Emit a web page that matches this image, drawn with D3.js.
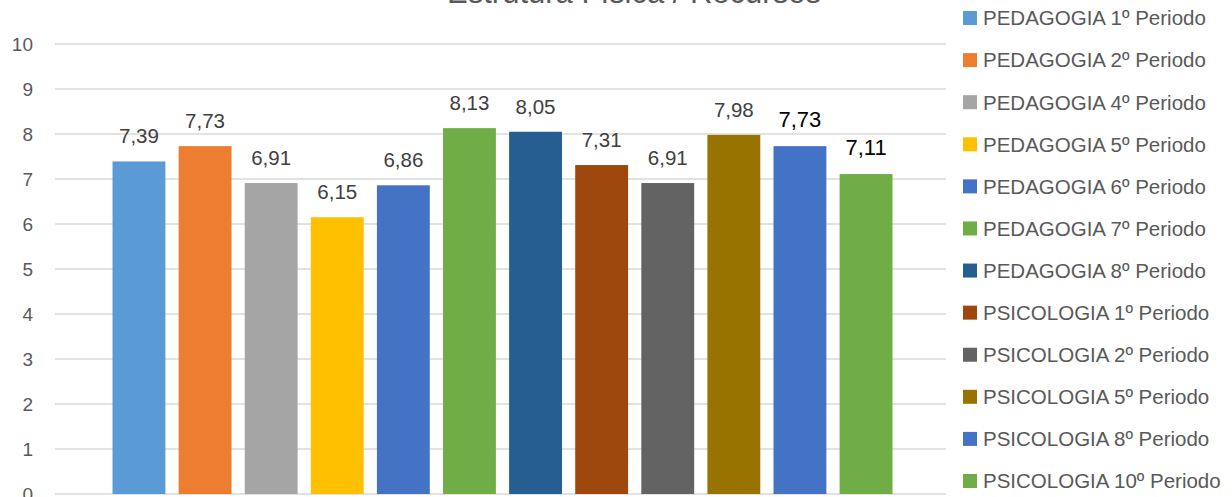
<!DOCTYPE html>
<html><head><meta charset="utf-8">
<script src="https://cdn.jsdelivr.net/npm/d3@7"></script>
<style>body{margin:0;background:#fff;} svg{display:block;}</style>
</head><body>
<svg id="chart" width="1232" height="497"></svg>
<script>
const title = "Estrutura Física / Recursos";
const series = ["PEDAGOGIA 1º Periodo","PEDAGOGIA 2º Periodo","PEDAGOGIA 4º Periodo","PEDAGOGIA 5º Periodo","PEDAGOGIA 6º Periodo","PEDAGOGIA 7º Periodo","PEDAGOGIA 8º Periodo","PSICOLOGIA 1º Periodo","PSICOLOGIA 2º Periodo","PSICOLOGIA 5º Periodo","PSICOLOGIA 8º Periodo","PSICOLOGIA 10º Periodo"];
const values = [7.39,7.73,6.91,6.15,6.86,8.13,8.05,7.31,6.91,7.98,7.73,7.11];
const colors = ["#5B9BD5","#ED7D31","#A5A5A5","#FFC000","#4472C4","#70AD47","#255E91","#9E480E","#636363","#997300","#4472C4","#70AD47"];
const emphasized = [false,false,false,false,false,false,false,false,false,false,true,true];
const yTicks = [0,1,2,3,4,5,6,7,8,9,10];

const svg = d3.select("#chart");
const font = "'Liberation Sans', Arial, sans-serif";
const plot = {left:55, right:946, top:44, bottom:494};

const y = d3.scaleLinear().domain([0,10]).range([plot.bottom, plot.top]);
const x = d3.scaleBand().domain(series).range([plot.left + 2, plot.right + 2]).paddingInner(0.2).paddingOuter(0.84);

// gridlines
svg.append("g").selectAll("line").data(yTicks).join("line")
  .attr("x1", plot.left).attr("x2", plot.right)
  .attr("y1", d=>y(d)).attr("y2", d=>y(d))
  .attr("stroke", "#d9d9d9").attr("stroke-width", 1.5);

// y axis labels
const yAxis = svg.append("g").attr("transform", `translate(${plot.left},0)`)
  .call(d3.axisLeft(y).tickValues(yTicks).tickSize(0).tickPadding(22).tickFormat(d3.format("d")));
yAxis.select(".domain").remove();
yAxis.selectAll("text").attr("font-family", font).attr("font-size", 19).attr("fill", "#595959");

// bars
svg.append("g").selectAll("rect").data(series).join("rect")
  .attr("x", d=>x(d)).attr("width", x.bandwidth())
  .attr("y", (d,i)=>y(values[i])).attr("height", (d,i)=>y(0)-y(values[i]))
  .attr("fill", (d,i)=>colors[i]);

// value labels
const fmt = v => d3.format(".2f")(v).replace(".", ",");
svg.append("g").selectAll("text").data(series).join("text")
  .attr("x", d=>x(d)+x.bandwidth()/2)
  .attr("y", (d,i)=>y(values[i]) - (emphasized[i] ? 19 : 18))
  .attr("text-anchor", "middle")
  .attr("font-family", font)
  .attr("font-size", (d,i)=>emphasized[i] ? 22 : 20.5)
  .attr("fill", (d,i)=>emphasized[i] ? "#000000" : "#404040")
  .text((d,i)=>fmt(values[i]));

// title
svg.append("text").attr("x", 634).attr("y", 3).attr("text-anchor", "middle")
  .attr("font-family", font).attr("font-size", 31).attr("fill", "#595959").text(title);

// legend
const legY = d3.scalePoint().domain(series).range([18, 481]);
const leg = svg.append("g").selectAll("g").data(series).join("g")
  .attr("transform", d=>`translate(963,${legY(d)})`);
leg.append("rect").attr("x",0).attr("y",-7).attr("width",14).attr("height",14).attr("fill",(d,i)=>colors[i]);
leg.append("text").attr("x",20).attr("y",0).attr("dy","0.36em")
  .attr("font-family", font).attr("font-size", 20.5).attr("fill", "#595959").text(d=>d);
</script>
</body></html>
